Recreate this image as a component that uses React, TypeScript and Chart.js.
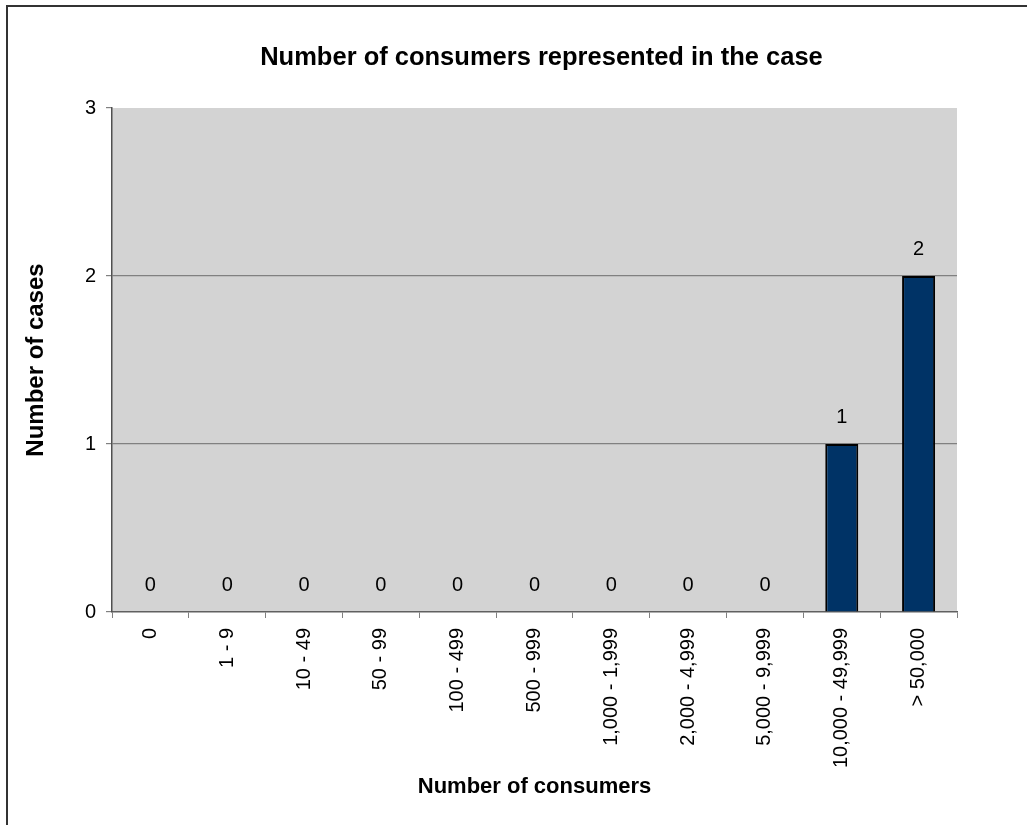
import React, { useEffect, useRef } from "react";
import { Chart, registerables } from "chart.js";

Chart.register(...registerables);

const categories = [
  "0",
  "1 - 9",
  "10 - 49",
  "50 - 99",
  "100 - 499",
  "500 - 999",
  "1,000 - 1,999",
  "2,000 - 4,999",
  "5,000 - 9,999",
  "10,000 - 49,999",
  "> 50,000",
];
const cases = [0, 0, 0, 0, 0, 0, 0, 0, 0, 1, 2];
const yTicks = [0, 1, 2, 3];

const chartTitle = "Number of consumers represented in the case";
const xTitle = "Number of consumers";
const yTitle = "Number of cases";

const FONT = "'Liberation Sans', Arial, sans-serif";

export default function App() {
  const ref = useRef<HTMLCanvasElement | null>(null);

  useEffect(() => {
    if (!ref.current) return;

    const plotBg = {
      id: "plotBg",
      beforeDraw(chart: any) {
        const { ctx, chartArea } = chart;
        ctx.save();
        ctx.fillStyle = "#D3D3D3";
        ctx.fillRect(chartArea.left, chartArea.top, chartArea.right - chartArea.left, chartArea.bottom - chartArea.top);
        ctx.restore();
      },
    };

    const titleDraw = {
      id: "titleDraw",
      afterDraw(chart: any) {
        const { ctx, chartArea } = chart;
        ctx.save();
        ctx.font = `bold 25.5px ${FONT}`;
        ctx.fillStyle = "#000";
        ctx.textAlign = "center";
        ctx.textBaseline = "middle";
        ctx.fillText(chartTitle, (chartArea.left + chartArea.right) / 2 + 7, 58);
        ctx.restore();
      },
    };

    const valueLabels = {
      id: "valueLabels",
      afterDatasetsDraw(chart: any) {
        const { ctx } = chart;
        const meta = chart.getDatasetMeta(0);
        ctx.save();
        ctx.font = `20px ${FONT}`;
        ctx.fillStyle = "#000";
        ctx.textAlign = "center";
        ctx.textBaseline = "middle";
        meta.data.forEach((bar: any, i: number) => {
          ctx.fillText(String(cases[i]), bar.x, bar.y - 26.5);
        });
        ctx.restore();
      },
    };

    const chart = new Chart(ref.current, {
      type: "bar",
      data: {
        labels: categories,
        datasets: [
          {
            data: cases,
            backgroundColor: "#003366",
            borderColor: "#000000",
            borderWidth: 2,
            categoryPercentage: 1,
            barPercentage: 0.43,
          },
        ],
      },
      options: {
        animation: false,
        responsive: false,
        layout: { padding: { top: 108, left: 0, right: 70, bottom: 0 } },
        plugins: {
          legend: { display: false },
          title: { display: false },
          tooltip: { enabled: false },
        },
        scales: {
          x: {
            offset: true,
            grid: {
              display: true,
              offset: true,
              drawOnChartArea: false,
              drawTicks: true,
              tickLength: 6,
              tickColor: "#808080",
            },
            border: { display: true, color: "#606060", width: 1.5 },
            ticks: {
              autoSkip: false,
              maxRotation: 90,
              minRotation: 90,
              padding: 10,
              color: "#000",
              font: { family: FONT, size: 20 },
            },
            title: {
              display: true,
              text: xTitle,
              color: "#000",
              font: { family: FONT, size: 22, weight: "bold" },
              padding: { top: 0, bottom: 25 },
            },
            afterFit(scale: any) {
              scale.height = 213;
            },
          },
          y: {
            min: 0,
            max: 3,
            afterBuildTicks(scale: any) {
              scale.ticks = yTicks.map((v) => ({ value: v }));
            },
            grid: {
              color: (c: any) =>
                c.tick && (c.tick.value === 1 || c.tick.value === 2) ? "#808080" : "rgba(0,0,0,0)",
              lineWidth: 1.2,
              drawTicks: true,
              tickLength: 6,
              tickColor: "#808080",
            },
            border: { display: true, color: "#505050", width: 1.5 },
            ticks: {
              padding: 10,
              color: "#000",
              font: { family: FONT, size: 20 },
            },
            title: {
              display: true,
              text: yTitle,
              color: "#000",
              font: { family: FONT, size: 24, weight: "bold" },
              padding: { top: 22, bottom: 0 },
            },
            afterFit(scale: any) {
              scale.width = 112;
            },
          },
        },
      },
      plugins: [plotBg, titleDraw, valueLabels],
    });

    return () => chart.destroy();
  }, []);

  return (
    <div style={{ position: "fixed", left: 0, top: 0, width: 1027, height: 825, background: "#fff", overflow: "hidden" }}>
      <div
        style={{
          position: "absolute",
          left: 6,
          top: 5,
          width: 1040,
          height: 840,
          borderTop: "2px solid #333",
          borderLeft: "2px solid #333",
        }}
      />
      <canvas ref={ref} width={1027} height={825} style={{ position: "absolute", left: 0, top: 0 }} />
    </div>
  );
}
